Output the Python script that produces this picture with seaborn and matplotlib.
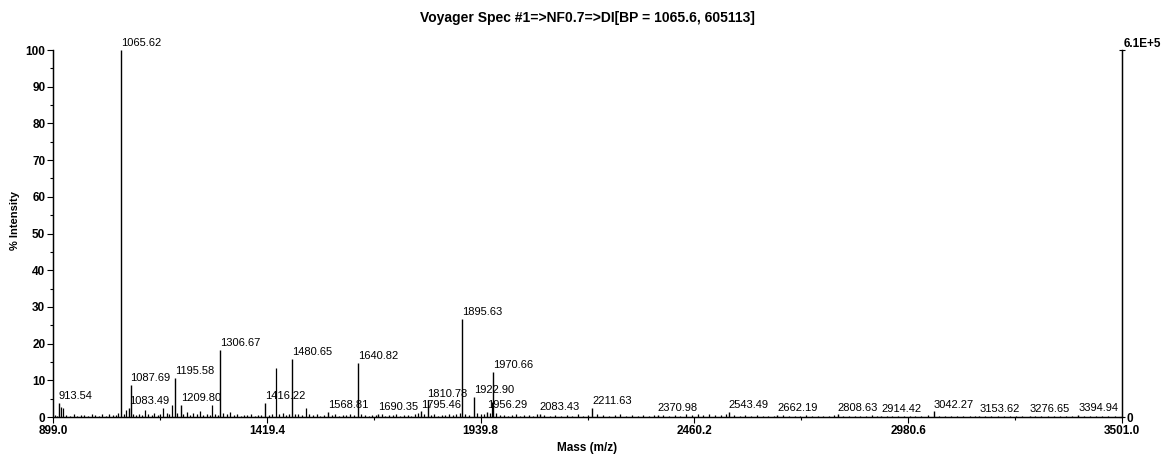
import matplotlib
matplotlib.use("Agg")
import matplotlib.pyplot as plt
import seaborn as sns

# Labelled peaks (m/z, % intensity)
peak_mz = [913.54, 1065.62, 1083.49, 1087.69, 1195.58, 1209.80, 1306.67, 1416.22,
           1480.65, 1568.81, 1640.82, 1690.35, 1795.46, 1810.78, 1895.63, 1922.90,
           1956.29, 1970.66, 2083.43, 2211.63, 2370.98, 2543.49, 2662.19, 2808.63,
           2914.42, 3042.27, 3153.62, 3276.65, 3394.94]
peak_int = [3.8, 100.0, 2.5, 8.7, 10.6, 3.3, 18.2, 3.8,
            15.8, 1.4, 14.7, 0.8, 1.5, 4.5, 26.7, 5.5,
            1.4, 12.3, 0.8, 2.5, 0.6, 1.3, 0.5, 0.7,
            0.4, 1.5, 0.3, 0.4, 0.5]
peak_labels = ["%.2f" % m for m in peak_mz]

# Unlabelled minor peaks
minor_mz = [903, 909, 918.5, 923.3, 931, 940, 949, 957, 966, 975,
            984, 993, 1001, 1010, 1018, 1027, 1036, 1044, 1052, 1058,
            1071, 1076, 1094, 1101, 1108, 1116, 1123, 1131, 1139, 1146,
            1154, 1160, 1166.8, 1176, 1182, 1188.7, 1201, 1216, 1224, 1232,
            1240, 1249, 1257, 1265, 1273, 1280, 1286, 1293, 1300, 1314,
            1322, 1330, 1339, 1347, 1356, 1364, 1372, 1381, 1390, 1398,
            1406, 1425, 1433, 1441.8, 1450, 1458, 1467, 1474, 1488, 1496,
            1504, 1514.9, 1523, 1532, 1541, 1549, 1558, 1577, 1586, 1595,
            1604, 1613, 1622, 1631, 1649, 1658, 1667, 1676, 1684, 1699,
            1708, 1717, 1726, 1735, 1744, 1753, 1762, 1771, 1780, 1788,
            1803, 1818, 1827, 1836, 1845, 1854, 1863, 1872, 1881, 1889,
            1903, 1911, 1930, 1940, 1948, 1963, 1968, 1978, 1987, 1996,
            2006, 2016, 2026, 2036, 2046, 2057, 2068, 2077, 2095, 2108,
            2122, 2135, 2150, 2163, 2176, 2190, 2200, 2224, 2238, 2252,
            2266, 2280, 2294, 2308, 2322, 2336, 2350, 2362, 2384, 2398,
            2412, 2426, 2440, 2454, 2468, 2482, 2496, 2510, 2524, 2536,
            2556, 2570, 2584, 2598, 2612, 2626, 2640, 2654, 2676, 2690,
            2704, 2718, 2732, 2746, 2760, 2774, 2788, 2800, 2822, 2836,
            2850, 2864, 2878, 2892, 2904, 2928, 2942, 2956, 2970, 2984,
            2998, 3012, 3028, 3056, 3070, 3085, 3100, 3115, 3130, 3142,
            3168, 3183, 3198, 3213, 3228, 3243, 3258, 3290, 3305, 3320,
            3335, 3350, 3365, 3380, 3408, 3423, 3438, 3453, 3468, 3483]
minor_int = [0.6, 0.4, 2.7, 2.4, 0.5, 0.3, 0.8, 0.4, 0.5, 0.6,
             0.4, 0.9, 0.5, 0.3, 0.7, 0.4, 0.8, 0.5, 0.6, 1.2,
             0.9, 1.8, 0.8, 0.5, 0.9, 0.6, 2.0, 0.7, 0.5, 1.1,
             0.6, 0.9, 2.4, 1.0, 0.7, 3.3, 1.2, 0.8, 1.4, 0.6,
             1.0, 0.7, 1.6, 0.5, 0.8, 0.6, 3.3, 0.9, 0.6, 1.0,
             0.7, 1.3, 0.5, 0.8, 0.4, 0.6, 0.5, 0.7, 0.4, 0.6,
             0.5, 0.6, 0.9, 13.3, 0.7, 1.0, 0.6, 0.8, 0.9, 0.7,
             0.6, 2.4, 0.7, 0.5, 0.8, 0.4, 0.6, 0.5, 0.7, 0.4,
             0.6, 0.5, 0.7, 0.6, 0.8, 0.5, 0.4, 0.6, 0.5, 0.7,
             0.4, 0.6, 0.5, 0.8, 0.4, 0.5, 0.6, 0.4, 0.7, 1.0,
             0.8, 0.5, 0.7, 0.4, 0.6, 0.5, 0.7, 0.6, 0.9, 1.1,
             0.9, 0.6, 1.0, 0.7, 0.9, 1.2, 4.0, 1.0, 0.6, 0.5,
             0.4, 0.5, 0.8, 0.4, 0.6, 0.5, 0.4, 0.7, 0.5, 0.4,
             0.6, 0.4, 0.5, 0.3, 0.7, 0.4, 0.5, 0.8, 0.6, 0.4,
             0.5, 0.7, 0.4, 0.6, 0.3, 0.5, 0.4, 0.6, 0.5, 0.4,
             0.6, 0.4, 0.7, 0.5, 0.8, 0.6, 0.7, 0.5, 0.6, 0.9,
             0.6, 0.4, 0.5, 0.3, 0.5, 0.4, 0.3, 0.4, 0.5, 0.3,
             0.4, 0.3, 0.5, 0.3, 0.4, 0.3, 0.4, 0.5, 0.3, 0.4,
             0.3, 0.4, 0.3, 0.5, 0.3, 0.4, 0.3, 0.3, 0.4, 0.3,
             0.3, 0.4, 0.5, 0.4, 0.3, 0.3, 0.4, 0.3, 0.3, 0.4,
             0.3, 0.2, 0.3, 0.2, 0.3, 0.3, 0.2, 0.3, 0.2, 0.3,
             0.2, 0.3, 0.2, 0.3, 0.2, 0.3, 0.2, 0.2, 0.3, 0.2]

x_ticks = [899.0, 1419.4, 1939.8, 2460.2, 2980.6, 3501.0]
y_ticks = [0, 10, 20, 30, 40, 50, 60, 70, 80, 90, 100]

sns.set_style("ticks")
plt.rcParams['font.family'] = ['Liberation Sans', 'DejaVu Sans']
plt.rcParams.update({'text.color': 'black', 'axes.labelcolor': 'black',
                     'xtick.color': 'black', 'ytick.color': 'black',
                     'axes.edgecolor': 'black'})

fig = plt.figure(figsize=(11.62, 4.54), dpi=100)
ax = fig.add_axes([53 / 1162, 1 - 417 / 454, (1122 - 53) / 1162, (417 - 50) / 454])

# spectrum sticks
ax.vlines(minor_mz, 0, minor_int, color='black', lw=0.9)
ax.vlines(peak_mz, 0, peak_int, color='black', lw=1.0)

for m, h, lab in zip(peak_mz, peak_int, peak_labels):
    ax.text(m, h + 0.5, lab, ha='left', va='bottom', fontsize=8, clip_on=False)

ax.set_xlim(899.0, 3501.0)
ax.set_ylim(0, 100)
ax.set_xticks(x_ticks)
ax.set_xticklabels(["%.1f" % v for v in x_ticks], fontsize=8.5, fontweight='bold')
ax.set_xticks([(a + b) / 2 for a, b in zip(x_ticks[:-1], x_ticks[1:])], minor=True)
ax.set_yticks(y_ticks)
ax.set_yticklabels([str(v) for v in y_ticks], fontsize=8.5, fontweight='bold')
ax.set_yticks([v + 5 for v in y_ticks[:-1]], minor=True)
ax.tick_params(axis='both', which='major', length=4, width=0.8, pad=1.5)
ax.tick_params(axis='both', which='minor', length=2.5, width=0.8)

for s in ['left', 'bottom', 'right']:
    ax.spines[s].set_linewidth(1.0)
ax.spines['top'].set_visible(False)

ax2 = ax.twinx()
ax2.set_ylim(0, 100)
ax2.set_yticks([0, 100])
ax2.set_yticklabels(['0', ''], fontsize=8.5, fontweight='bold')
ax2.tick_params(axis='y', direction='inout', length=5, width=0.8, pad=1)
ax2.spines['top'].set_visible(False)

fig.text(1161 / 1162, 1 - 44 / 454, '6.1E+5', ha='right', va='center',
         fontsize=8.5, fontweight='bold')
fig.text(587 / 1162, 1 - 18 / 454, 'Voyager Spec #1=>NF0.7=>DI[BP = 1065.6, 605113]',
         ha='center', va='center', fontsize=10, fontweight='bold')
fig.text(15 / 1162, 1 - 221 / 454, '% Intensity', rotation=90, ha='center', va='center',
         fontsize=8, fontweight='bold')
fig.text(587 / 1162, 1 - 448 / 454, 'Mass (m/z)', ha='center', va='center',
         fontsize=8.5, fontweight='bold')

fig.savefig("out.png", dpi=100)
